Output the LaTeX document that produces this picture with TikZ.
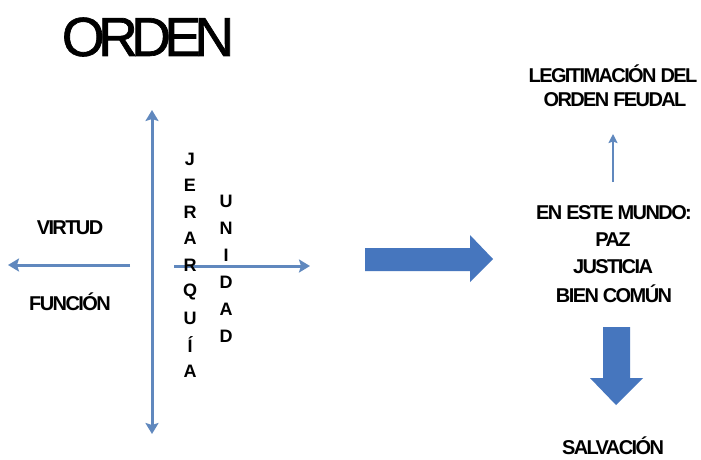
\documentclass[tikz,border=0pt]{standalone}
\usepackage{fontspec}
\setmainfont{Liberation Sans}
\newfontfamily\tightfont[LetterSpace=-8]{Liberation Sans}
\newfontfamily\titlefont[LetterSpace=-12,FakeBold=1.2]{Liberation Sans}
\usetikzlibrary{arrows.meta}
\definecolor{thinblue}{RGB}{96,136,190}
\definecolor{blockblue}{RGB}{70,118,190}
\begin{document}
\begin{tikzpicture}[x=1pt,y=-1pt,
  lbl/.style={font=\tightfont\bfseries\fontsize{20}{22}\selectfont, inner sep=0pt, align=center},
  ltr/.style={font=\bfseries\fontsize{18}{18}\selectfont, inner sep=0pt},
  thin/.style={draw=thinblue, line width=3pt, -{Stealth[length=11pt,width=13pt,inset=2pt]}},
  thinsmall/.style={draw=thinblue, line width=2pt, -{Stealth[length=9pt,width=9pt,inset=1.5pt]}},
  block/.style={fill=blockblue, draw=none}]
\useasboundingbox (0,0) rectangle (701,459);
\fill[white] (0,0) rectangle (701,459);
% title
\node[font=\titlefont\fontsize{55}{55}\selectfont, inner sep=0pt] (title) at (148,37) {ORDEN};
% cross arrows
\coordinate (vtop) at (152,110);
\coordinate (vbot) at (152,434);
\coordinate (vmid) at (152,300);
\draw[thin] (vmid) -- (vtop);
\draw[thin] (vmid) -- (vbot);
\coordinate (lstart) at (130,265);
\coordinate (lend) at (8,265);
\draw[thin] (lstart) -- (lend);
\coordinate (rstart) at (174,266);
\coordinate (rend) at (310,266);
\draw[thin] (rstart) -- (rend);
% labels
\node[lbl] (virtud) at (70,228) {VIRTUD};
\node[lbl] (funcion) at (70,302) {FUNCIÓN};
% vertical words
\foreach \l [count=\i] in {J,E,R,A,R,Q,U,Í,A}
  \node[ltr] (jer\i) at (190,{159+26.5*(\i-1)}) {\l};
\foreach \l [count=\i] in {U,N,I,D,A,D}
  \node[ltr] (uni\i) at (226,{201+27*(\i-1)}) {\l};
% big right block arrow
\path[block] (365,248) -- (470,248) -- (470,235) -- (493,259) -- (470,282) -- (470,271) -- (365,271) -- cycle;
% right column
\node[lbl] (legit) at (613,74) {LEGITIMACIÓN DEL};
\node[lbl] (feudal) at (615,100) {ORDEN FEUDAL};
\coordinate (sbot) at (613,182);
\coordinate (stop) at (613,134);
\draw[thinsmall] (sbot) -- (stop);
\node[lbl] (mundo) at (614,213) {EN ESTE MUNDO:};
\node[lbl] (paz) at (613,240) {PAZ};
\node[lbl] (justicia) at (613,267) {JUSTICIA};
\node[lbl] (bien) at (614,294) {BIEN COMÚN};
% down block arrow
\path[block] (603,327) -- (630,327) -- (630,378) -- (643,378) -- (616,405) -- (590,378) -- (603,378) -- cycle;
\node[lbl, anchor=base] (salv) at (613,454) {SALVACIÓN};
\end{tikzpicture}
\end{document}
